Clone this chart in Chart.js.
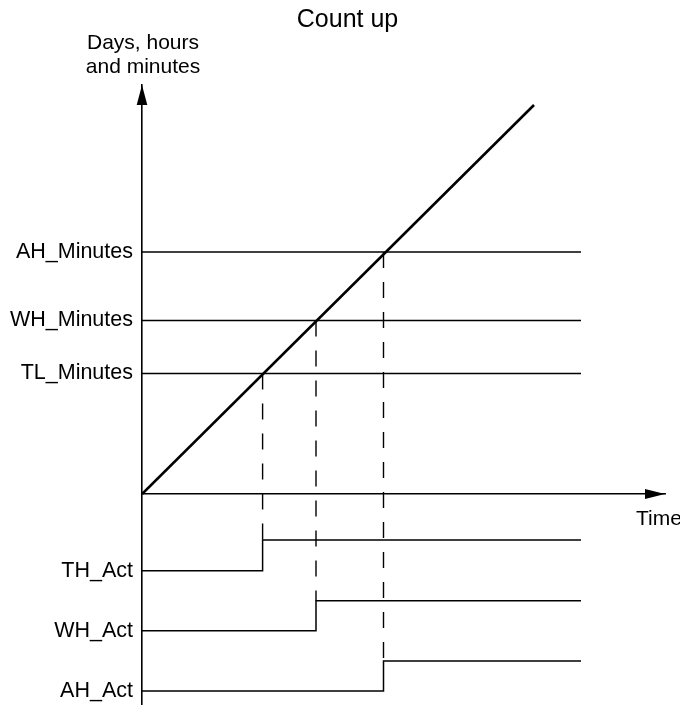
<!DOCTYPE html>
<html>
<head>
<meta charset="utf-8">
<title>Count up</title>
<script src="https://cdn.jsdelivr.net/npm/chart.js@4"></script>
<style>
  html, body { margin: 0; padding: 0; background: #fff; }
  #wrap { width: 680px; height: 705px; }
</style>
</head>
<body>
<div id="wrap"><canvas id="countChart"></canvas></div>
<script>
// Values (1 unit ~ 10 px)
const thresholdNames = ['TL_Minutes', 'WH_Minutes', 'AH_Minutes'];
const thresholdLevels = [12.05, 17.35, 24.2];

const signalNames = ['TH_Act', 'WH_Act', 'AH_Act'];
const signalLow = [-7.67, -13.67, -19.7];
const signalHigh = [-4.6, -10.67, -16.7];
const switchTimes = [12.06, 17.4, 24.15]; // where the counter crosses TL, WH, AH

const counterTimes = [0, 39.2];
const counterValues = [0, 38.9];
const lineEndTime = 43.9;

const timeRange = [0, 52.3];
const valueRange = [-21.1, 40.9];

// Tick positions / labels for the value axis (ascending)
const tickValues = signalLow.slice().reverse().concat(thresholdLevels);
const tickLabels = signalNames.slice().reverse().concat(thresholdNames);

const FONT = "'Liberation Sans', Arial, sans-serif";
Chart.defaults.font.family = FONT;
Chart.defaults.color = '#000';

const datasets = [];

// counter ramp
datasets.push({
  data: counterTimes.map((t, i) => ({ x: t, y: counterValues[i] })),
  borderColor: '#000', borderWidth: 2.6
});

// threshold lines
thresholdLevels.forEach(level => {
  datasets.push({
    data: [{ x: 0, y: level }, { x: lineEndTime, y: level }],
    borderColor: '#000', borderWidth: 1.6
  });
});

// dashed drop lines from crossing point to the switching edge
switchTimes.forEach((t, i) => {
  datasets.push({
    data: [{ x: t, y: thresholdLevels[i] }, { x: t, y: signalHigh[i] }],
    borderColor: '#000', borderWidth: 1.4, borderDash: [16, 14]
  });
});

// output signals
signalNames.forEach((name, i) => {
  datasets.push({
    data: [
      { x: 0, y: signalLow[i] },
      { x: switchTimes[i], y: signalLow[i] },
      { x: switchTimes[i], y: signalHigh[i] },
      { x: lineEndTime, y: signalHigh[i] }
    ],
    borderColor: '#000', borderWidth: 1.5
  });
});

// Title, arrowheads and the free axis captions
const axisDecor = {
  id: 'axisDecor',
  afterDraw(chart) {
    const ctx = chart.ctx;
    const area = chart.chartArea;
    const y0 = chart.scales.y.getPixelForValue(0);
    ctx.save();
    ctx.fillStyle = '#000';

    // y arrow
    ctx.beginPath();
    ctx.moveTo(area.left, area.top);
    ctx.lineTo(area.left - 5.3, area.top + 20);
    ctx.lineTo(area.left + 5.3, area.top + 20);
    ctx.closePath();
    ctx.fill();

    // x arrow
    ctx.beginPath();
    ctx.moveTo(area.right, y0);
    ctx.lineTo(area.right - 20, y0 - 5);
    ctx.lineTo(area.right - 20, y0 + 5);
    ctx.closePath();
    ctx.fill();

    ctx.textBaseline = 'alphabetic';
    ctx.textAlign = 'center';
    ctx.font = '25px ' + FONT;
    ctx.fillText('Count up', 347.5, 27);

    ctx.font = '21px ' + FONT;
    ctx.fillText('Days, hours', area.left + 1, 49);
    ctx.fillText('and minutes', area.left + 1, 73);

    ctx.textAlign = 'left';
    ctx.fillText('Time', area.right - 29, y0 + 31);
    ctx.restore();
  }
};

new Chart(document.getElementById('countChart'), {
  type: 'line',
  data: { datasets },
  plugins: [axisDecor],
  options: {
    responsive: true,
    maintainAspectRatio: false,
    animation: false,
    layout: { padding: { left: 0, right: 15, top: 85, bottom: 0 } },
    elements: { point: { radius: 0 }, line: { tension: 0, fill: false } },
    plugins: {
      legend: { display: false },
      tooltip: { enabled: false },
      title: { display: false }
    },
    scales: {
      x: {
        type: 'linear',
        position: { y: 0 },
        min: timeRange[0],
        max: timeRange[1],
        grid: { display: false, drawTicks: false },
        ticks: { display: false },
        border: { display: true, color: '#000', width: 1.6 },
        afterFit(axis) { axis.paddingLeft = 0; axis.paddingRight = 0; }
      },
      y: {
        type: 'linear',
        position: 'left',
        min: valueRange[0],
        max: valueRange[1],
        grid: { display: false, drawTicks: false },
        border: { display: true, color: '#000', width: 1.6 },
        afterBuildTicks(axis) { axis.ticks = tickValues.map(v => ({ value: v })); },
        ticks: {
          autoSkip: false,
          padding: 9,
          color: '#000',
          font: { size: 21.5 },
          callback: (v, i) => tickLabels[i]
        },
        afterFit(axis) {
          axis.width = 142;
          axis.paddingTop = 0;
          axis.paddingBottom = 0;
        }
      }
    }
  }
});
</script>
</body>
</html>
